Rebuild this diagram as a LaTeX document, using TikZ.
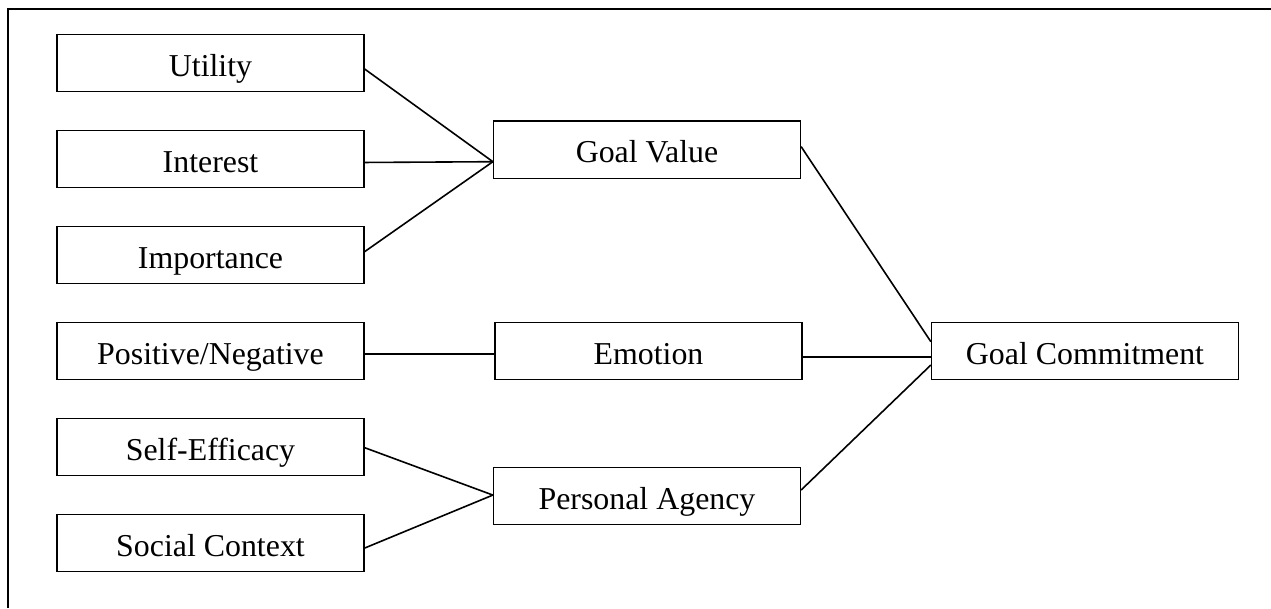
\documentclass[tikz,border=0pt]{standalone}
\usepackage{fontspec}
\setmainfont{Liberation Serif}
\begin{document}
\begin{tikzpicture}[x=0.75pt,y=-0.75pt,
  box/.style={draw, line width=1.2pt, minimum width=230pt, minimum height=43pt, inner sep=0pt,
    text height=22pt, text depth=2.5pt,
    font=\fontsize{23.9}{28}\selectfont, anchor=center},
  link/.style={line width=1.2pt},
  frame/.style={line width=1.4pt}]
\useasboundingbox (0,0) rectangle (1271,608);
% frame (top and left edges only)
\coordinate (fl) at (8,608);
\coordinate (fc) at (8,9);
\coordinate (fr) at (1271,9);
\draw[frame] (fl) -- (fc) -- (fr);
% left column
\node[box] (util) at (210.5,63) {Utility};
\node[box] (inter) at (210.5,159) {Interest};
\node[box] (impo) at (210.5,255) {Importance};
\node[box] (posneg) at (210.5,351) {Positive/Negative};
\node[box] (selfeff) at (210.5,447) {Self-Efficacy};
\node[box] (social) at (210.5,543) {Social Context};
% middle column
\node[box] (gv) at (647,149.7) {Goal Value};
\node[box] (emo) at (648.5,351) {Emotion};
\node[box] (pa) at (647,496) {Personal Agency};
% right
\node[box] (gc) at (1085,351) {Goal Commitment};
% connectors
\draw[link] ([yshift=-4.5pt]util.east) -- ([yshift=-9pt]gv.west);
\draw[link] ([yshift=-2.6pt]inter.east) -- ([yshift=-9pt]gv.west);
\draw[link] ([yshift=2.5pt]impo.east) -- ([yshift=-9pt]gv.west);
\draw[link] ([yshift=-2.2pt]posneg.east) -- ([yshift=-2.2pt]emo.west);
\draw[link] ([yshift=-0.5pt]selfeff.east) -- ([yshift=0.7pt]pa.west);
\draw[link] ([yshift=-3.8pt]social.east) -- ([yshift=0.7pt]pa.west);
\draw[link] ([yshift=2.3pt]gv.east) -- ([yshift=7pt]gc.west);
\draw[link] ([yshift=-4.3pt]emo.east) -- ([yshift=-4.3pt]gc.west);
\draw[link] ([yshift=4.5pt]pa.east) -- ([yshift=-10.5pt]gc.west);
\end{tikzpicture}
\end{document}
